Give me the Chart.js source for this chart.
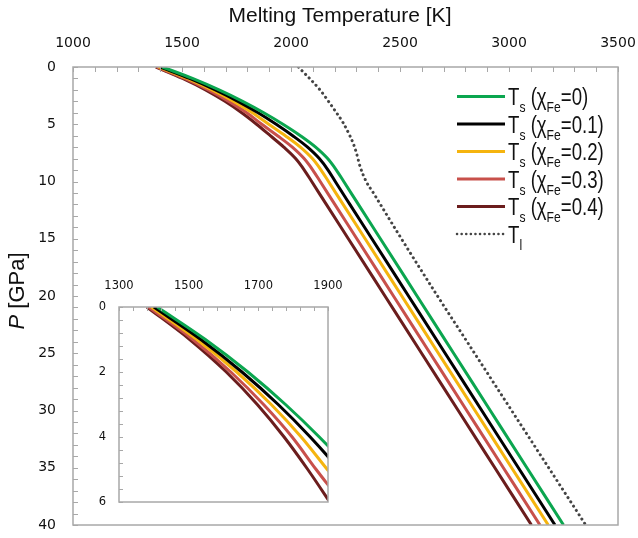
<!DOCTYPE html>
<html><head><meta charset="utf-8">
<script src="https://cdn.jsdelivr.net/npm/chart.js@4/dist/chart.umd.min.js"></script>
<style>
html,body{margin:0;padding:0;background:#fff;}
#wrap{position:relative;width:638px;height:538px;overflow:hidden;}
#main{position:absolute;left:0;top:0;}
#inset{position:absolute;left:80px;top:262px;}
</style></head><body>
<div id="wrap"><canvas id="main" width="638" height="538" style="width:638px;height:538px"></canvas><canvas id="inset" width="270" height="248" style="width:270px;height:248px"></canvas></div>
<script>
// Pressure levels (GPa)
const pressure = [0,1,2,3,4,5,6,7,8,9,10,12,15,20,25,30,35,40];
// Solidus temperatures (K) for each iron fraction
const tsFe00 = [1410,1548,1670,1778,1875,1963,2043,2113,2168,2208,2242,2309,2410,2578,2746,2914,3082,3250];
const tsFe01 = [1400,1535,1653,1757,1849,1932,2008,2076,2130,2170,2203,2270,2371,2539,2707,2875,3043,3211];
const tsFe02 = [1393,1524,1638,1737,1823,1898,1974,2043,2098,2138,2172,2239,2340,2508,2676,2844,3012,3180];
const tsFe03 = [1385,1512,1621,1715,1797,1866,1938,2006,2060,2100,2134,2201,2302,2470,2638,2806,2974,3142];
const tsFe04 = [1380,1503,1608,1697,1774,1842,1905,1967,2021,2061,2095,2162,2263,2431,2599,2767,2935,3103];
// Liquidus
const tlPressure = [0,2,3.6,4.9,6,6.7,7.5,8.7,10,11,12,14.8,20,25,30,35,40];
const tlTemp =     [2034,2133,2194,2240,2270,2286,2300,2317,2345,2378,2410,2500,2672,2842,3012,3182,3352];

const seriesLabels = ['0','0.1','0.2','0.3','0.4'];
const seriesColors = ['#0ba64f','#000000','#f5b40f','#c8504b','#6b1d1d'];
const seriesTemps = [tsFe00, tsFe01, tsFe02, tsFe03, tsFe04];

const xTicksMain = [1000,1500,2000,2500,3000,3500];
const yTicksMain = [0,5,10,15,20,25,30,35,40];
const xTicksInset = [1300,1500,1700,1900];
const yTicksInset = [0,2,4,6];

const NUMFONT = "'DejaVu Sans', sans-serif";
const TXTFONT = "'Liberation Sans', Arial, sans-serif";
const FRAME = '#a8a8a8';

function makeSets(withLiquidus){
  const sets = seriesTemps.map((arr,i)=>({
    label:'Ts '+seriesLabels[i],
    data: pressure.map((p,j)=>({x:arr[j], y:p})),
    borderColor: seriesColors[i], borderWidth: 3, pointRadius: 0,
    fill:false, cubicInterpolationMode:'monotone'
  }));
  if (withLiquidus) sets.push({
    label:'Tl', data: tlPressure.map((p,j)=>({x:tlTemp[j], y:p})),
    borderColor:'#444', borderWidth:3, borderDash:[0.1,5], borderCapStyle:'round',
    pointRadius:0, fill:false, cubicInterpolationMode:'monotone'
  });
  return sets;
}

function framePlugin(xMinorStep, yMinorStep, tickLen){
  return {
    id:'frame',
    beforeDatasetsDraw(chart){
      const a = chart.chartArea, c = chart.ctx;
      c.save(); c.fillStyle='#fff'; c.fillRect(a.left,a.top,a.right-a.left,a.bottom-a.top); c.restore();
    },
    afterDatasetsDraw(chart){
      const a = chart.chartArea, c = chart.ctx, xs = chart.scales.x, ys = chart.scales.y;
      c.save();
      c.strokeStyle = FRAME; c.lineWidth = 1.5;
      c.strokeRect(a.left, a.top, a.right-a.left, a.bottom-a.top);
      c.lineWidth = 1;
      c.beginPath();
      for (let v = xs.min; v <= xs.max + 1e-6; v += xMinorStep){
        const px = Math.round(xs.getPixelForValue(v)) + 0.5;
        c.moveTo(px, a.top); c.lineTo(px, a.top + tickLen);
      }
      for (let v = ys.min; v <= ys.max + 1e-6; v += yMinorStep){
        const py = Math.round(ys.getPixelForValue(v)) + 0.5;
        c.moveTo(a.left, py); c.lineTo(a.left + tickLen, py);
      }
      c.stroke();
      c.restore();
    }
  };
}

function drawRich(c, x, y, parts, big, small){
  let cx = x;
  for (const p of parts){
    if (p.sub){ c.font = small; c.fillText(p.t, cx, y + 7); }
    else { c.font = big; c.fillText(p.t, cx, y); }
    cx += c.measureText(p.t).width;
  }
}

const legendPlugin = {
  id:'customLegend',
  afterDraw(chart){
    const c = chart.ctx;
    c.save();
    const big = "23px " + TXTFONT, small = "15px " + TXTFONT;
    c.textBaseline = 'alphabetic'; c.fillStyle = '#111';
    const rows = seriesLabels.map((l,i)=>({color:seriesColors[i], dash:false,
      parts:[{t:'T'},{t:'s',sub:true},{t:' ('},{t:'χ'},{t:'Fe',sub:true},{t:'='+l+')'}]}));
    rows.push({color:'#444', dash:true, parts:[{t:'T'},{t:'l',sub:true}]});
    rows.forEach((r,i)=>{
      const y = 96.5 + i*27.5;
      c.beginPath();
      c.strokeStyle = r.color; c.lineWidth = r.dash ? 2.5 : 3;
      if (r.dash){ c.setLineDash([0.1,4.5]); c.lineCap='round'; } else { c.setLineDash([]); c.lineCap='butt'; }
      c.moveTo(457, y); c.lineTo(505, y); c.stroke();
      c.setLineDash([]);
      c.save();
      c.translate(508, y + 8.5); c.scale(0.81, 1);
      drawRich(c, 0, 0, r.parts, big, small);
      c.restore();
    });
    // axis titles
    c.font = "21px " + TXTFONT; c.textAlign = 'center'; c.textBaseline = 'middle';
    c.fillText('Melting Temperature [K]', 340, 16);
    c.translate(18, 291); c.rotate(-Math.PI/2);
    c.textAlign = 'left';
    c.font = "italic 22px " + TXTFONT;
    const w1 = c.measureText('P').width;
    c.font = "22px " + TXTFONT;
    const w2 = c.measureText(' [GPa]').width;
    const x0 = -(w1+w2)/2;
    c.font = "italic 22px " + TXTFONT; c.fillText('P', x0, 0);
    c.font = "22px " + TXTFONT; c.fillText(' [GPa]', x0 + w1, 0);
    c.restore();
  }
};

function zeroPad(s){ s.paddingLeft = 0; s.paddingRight = 0; s.paddingTop = 0; s.paddingBottom = 0; }

new Chart(document.getElementById('main'), {
  type:'line',
  data:{ datasets: makeSets(true) },
  options:{
    responsive:false, animation:false, events:[],
    layout:{ padding:{ left:0, top:0, right:20, bottom:13 } },
    plugins:{ legend:{display:false}, tooltip:{enabled:false} },
    scales:{
      x:{ type:'linear', position:'top', min:xTicksMain[0], max:xTicksMain[xTicksMain.length-1],
          afterBuildTicks: s => { s.ticks = xTicksMain.map(v=>({value:v})); },
          ticks:{ padding:15, color:'#111', maxRotation:0, font:{family:NUMFONT, size:14}, callback: v => String(v) },
          grid:{ display:false, drawTicks:false }, border:{ display:false },
          afterFit: s => { s.height = 67; zeroPad(s); } },
      y:{ type:'linear', reverse:true, min:yTicksMain[0], max:yTicksMain[yTicksMain.length-1],
          afterBuildTicks: s => { s.ticks = yTicksMain.map(v=>({value:v})); },
          ticks:{ padding:17, color:'#111', font:{family:NUMFONT, size:14}, callback: v => String(v) },
          grid:{ display:false, drawTicks:false }, border:{ display:false },
          afterFit: s => { s.width = 73; zeroPad(s); } }
    }
  },
  plugins:[ framePlugin(100, 1, 5), legendPlugin ]
});

new Chart(document.getElementById('inset'), {
  type:'line',
  data:{ datasets: makeSets(false) },
  options:{
    responsive:false, animation:false, events:[],
    layout:{ padding:{ left:0, top:0, right:22, bottom:8 } },
    plugins:{ legend:{display:false}, tooltip:{enabled:false} },
    scales:{
      x:{ type:'linear', position:'top', min:xTicksInset[0], max:xTicksInset[xTicksInset.length-1],
          afterBuildTicks: s => { s.ticks = xTicksInset.map(v=>({value:v})); },
          ticks:{ padding:14, color:'#111', maxRotation:0, font:{family:NUMFONT, size:11.5}, callback: v => String(v) },
          grid:{ display:false, drawTicks:false }, border:{ display:false },
          afterFit: s => { s.height = 45; zeroPad(s); } },
      y:{ type:'linear', reverse:true, min:yTicksInset[0], max:yTicksInset[yTicksInset.length-1],
          afterBuildTicks: s => { s.ticks = yTicksInset.map(v=>({value:v})); },
          ticks:{ padding:13, color:'#111', font:{family:NUMFONT, size:11.5}, callback: v => String(v) },
          grid:{ display:false, drawTicks:false }, border:{ display:false },
          afterFit: s => { s.width = 39; zeroPad(s); } }
    }
  },
  plugins:[ framePlugin(40, 0.4, 4) ]
});
</script>
</body></html>
